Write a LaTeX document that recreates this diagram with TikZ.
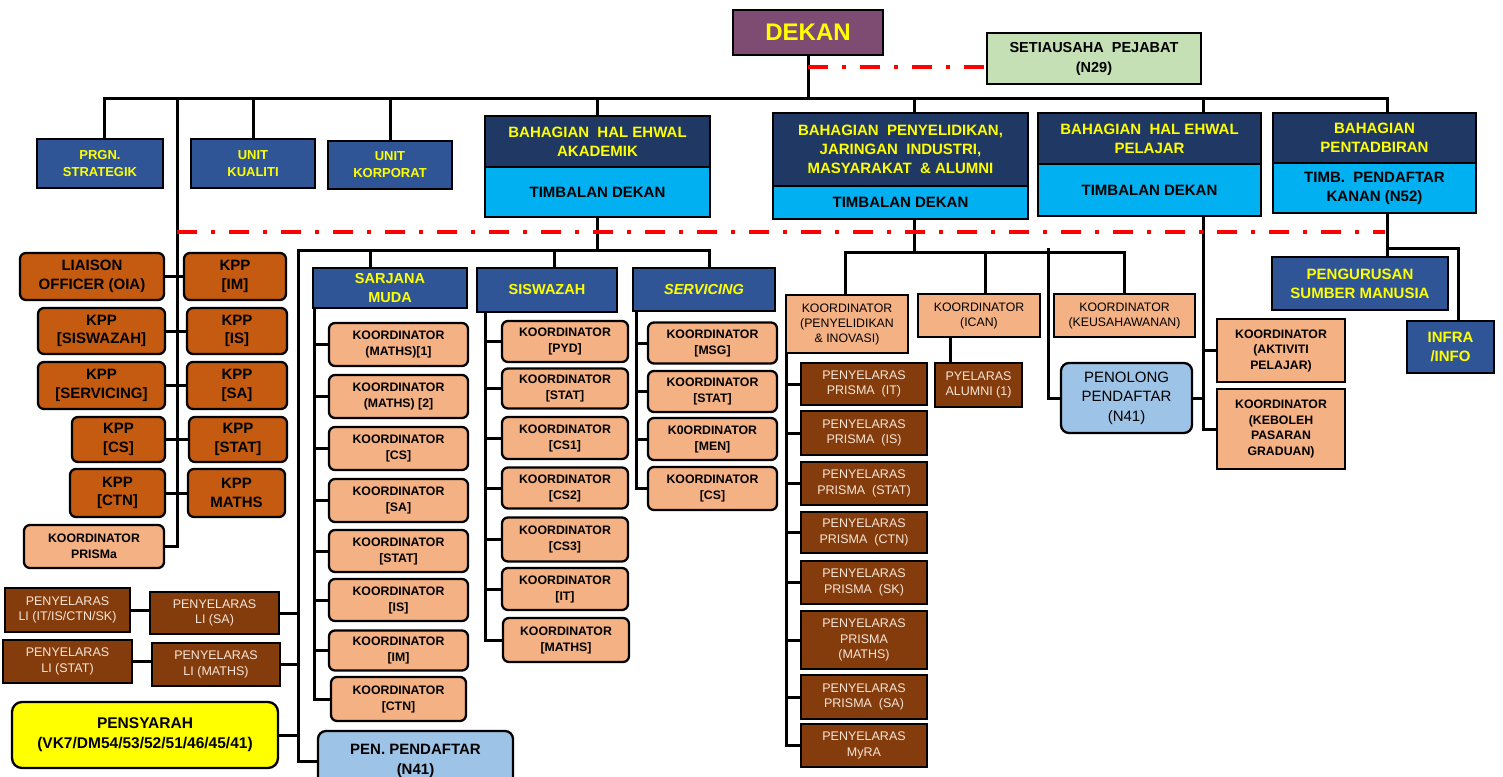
\documentclass[tikz,border=0pt]{standalone}
\usepackage{fontspec}
\setmainfont{Liberation Sans}
\usepackage{tikz}
\usetikzlibrary{positioning,calc}
\definecolor{navyblue}{HTML}{1F3864}
\definecolor{midblue}{HTML}{2F5597}
\definecolor{skyblue}{HTML}{00B0F0}
\definecolor{plum}{HTML}{7E4C72}
\definecolor{sage}{HTML}{C5E0B4}
\definecolor{rust}{HTML}{C55A11}
\definecolor{peach}{HTML}{F4B183}
\definecolor{brownish}{HTML}{843C0C}
\definecolor{paleblue}{HTML}{9DC3E6}
\definecolor{cream}{HTML}{F8E6D8}
\definecolor{lemon}{HTML}{FFFF00}
\definecolor{dashred}{HTML}{FF0000}
\newcommand{\fsz}[2]{\fontsize{#1}{#2}\selectfont}
\tikzset{wh/.style 2 args={minimum width=#1pt,minimum height=#2pt}}

\begin{document}
\begin{tikzpicture}[x=1pt,y=-1pt]
  \tikzstyle{box}=[draw, line width=2.3pt, align=center, inner sep=1pt, text=black]
  \tikzstyle{unit}=[box, fill=midblue, text=lemon, font=\bfseries\fsz{13}{17}]
  \tikzstyle{stream}=[box, fill=midblue, text=lemon, font=\bfseries\fsz{14.5}{19}]
  \tikzstyle{bahagian}=[box, fill=navyblue, text=lemon, font=\bfseries\fsz{15}{19}]
  \tikzstyle{timbalan}=[box, fill=skyblue, font=\bfseries\fsz{15}{19}]
  \tikzstyle{kpp}=[box, rounded corners=6pt, fill=rust, font=\bfseries\fsz{15}{18.5}]
  \tikzstyle{koord}=[box, rounded corners=6pt, fill=peach, font=\bfseries\fsz{12.3}{16}]
  \tikzstyle{koordsq}=[box, fill=peach, font=\fsz{12.3}{15}]
  \tikzstyle{koordbold}=[box, fill=peach, font=\bfseries\fsz{12.3}{15.5}]
  \tikzstyle{penyelaras}=[box, fill=brownish, text=cream, font=\fsz{12.5}{15.5}]
  \tikzstyle{pendaftar}=[box, rounded corners=8pt, fill=paleblue, font=\fsz{15}{19.5}]
  \tikzstyle{link}=[line width=3pt]
  \tikzstyle{dotdash}=[dashred, line width=3.5pt, dash pattern=on 20pt off 14pt on 4pt off 14pt]

  \useasboundingbox (0,0) rectangle (1503,776);
  \clip (0,0) rectangle (1503,776);

  \node[box, fill=plum, text=lemon, font=\bfseries\fsz{24}{28}, wh={150}{45}] (dekan) at (808,32.5) {DEKAN};
  \node[box, fill=sage, line width=1.5pt, font=\bfseries\fsz{14.5}{20}, wh={214}{51}] (setia) at (1094,58.5) {SETIAUSAHA\ \ PEJABAT\\(N29)};

  \node[unit, wh={126}{49}] (prgn) at (100,163.5) {PRGN.\\STRATEGIK};
  \node[unit, wh={124}{49}] (kualiti) at (253,163.5) {UNIT\\KUALITI};
  \node[unit, wh={124}{48}] (korporat) at (390,165) {UNIT\\KORPORAT};

  \node[bahagian, wh={225}{51}] (akad) at (597.5,141.5) {BAHAGIAN\ \ HAL EHWAL\\AKADEMIK};
  \node[timbalan, wh={225}{50}] (akadtd) at (597.5,192) {TIMBALAN DEKAN};
  \node[bahagian, wh={255}{73}] (penye) at (900.5,149.5) {BAHAGIAN\ \ PENYELIDIKAN,\\JARINGAN\ \ INDUSTRI,\\MASYARAKAT\ \ \& ALUMNI};
  \node[timbalan, wh={255}{33}] (penyetd) at (900.5,202.5) {TIMBALAN DEKAN};
  \node[bahagian, wh={223}{51}] (pelajar) at (1149.5,138.5) {BAHAGIAN\ \ HAL EHWAL\\PELAJAR};
  \node[timbalan, wh={223}{52}] (pelajartd) at (1149.5,190) {TIMBALAN DEKAN};
  \node[bahagian, wh={203}{50}] (tadbir) at (1374.5,138) {BAHAGIAN\\PENTADBIRAN};
  \node[timbalan, wh={203}{50}] (tadbirtd) at (1374.5,188) {TIMB.\ \ PENDAFTAR\\KANAN (N52)};

  \node[kpp, wh={144}{47}] (liaison) at (92,276.5) {LIAISON\\OFFICER (OIA)};
  \node[kpp, wh={102}{47}] (kppim) at (235,276.5) {KPP\\{}[IM]};
  \node[kpp, wh={127}{46}] (kppsiswazah) at (101.5,331) {KPP\\{}[SISWAZAH]};
  \node[kpp, wh={100}{46}] (kppis) at (237,331) {KPP\\{}[IS]};
  \node[kpp, wh={127}{47}] (kppservicing) at (101.5,385.5) {KPP\\{}[SERVICING]};
  \node[kpp, wh={100}{47}] (kppsa) at (237,385.5) {KPP\\{}[SA]};
  \node[kpp, wh={93}{45}] (kppcs) at (118.5,439.5) {KPP\\{}[CS]};
  \node[kpp, wh={98}{45}] (kppstat) at (238,439.5) {KPP\\{}[STAT]};
  \node[kpp, wh={95}{48}] (kppctn) at (117.5,493) {KPP\\{}[CTN]};
  \node[kpp, wh={97}{48}] (kppmaths) at (236.5,493) {KPP\\MATHS};
  \node[koord, wh={140}{43}] (kprisma) at (94,546.5) {KOORDINATOR\\PRISMa};

  \node[penyelaras, wh={125}{44}] (liit) at (67.5,610) {PENYELARAS\\LI (IT/IS/CTN/SK)};
  \node[penyelaras, wh={129}{42}] (lisa) at (214.5,613) {PENYELARAS\\LI (SA)};
  \node[penyelaras, wh={129}{43}] (listat) at (67.5,661.5) {PENYELARAS\\LI (STAT)};
  \node[penyelaras, wh={128}{43}] (limaths) at (216,664.5) {PENYELARAS\\LI (MATHS)};
  \node[box, rounded corners=10pt, fill=lemon, font=\bfseries\fsz{15.5}{20}, wh={266}{66}] (pensyarah) at (145,735) {PENSYARAH\\(VK7/DM54/53/52/51/46/45/41)};
  \node[pendaftar, font=\bfseries\fsz{15}{20}, wh={195}{60}] (penpend) at (415.5,761) {PEN. PENDAFTAR\\(N41)};

  \node[stream, wh={154}{40}] (sarjana) at (390,288) {SARJANA\\MUDA};
  \node[stream, wh={140}{44}] (siswazah) at (547,290) {SISWAZAH};
  \node[stream, wh={142}{43}, font=\bfseries\itshape\fsz{14.5}{19}] (servicing) at (704,289.5) {SERVICING};

  \node[koord, wh={139}{43}] (sm1) at (398.5,344.5) {KOORDINATOR\\(MATHS)[1]};
  \node[koord, wh={139}{43}] (sm2) at (398.5,396.5) {KOORDINATOR\\(MATHS) [2]};
  \node[koord, wh={139}{43}] (sm3) at (398.5,448.5) {KOORDINATOR\\{}[CS]};
  \node[koord, wh={139}{43}] (sm4) at (398.5,500.5) {KOORDINATOR\\{}[SA]};
  \node[koord, wh={139}{42}] (sm5) at (398.5,551) {KOORDINATOR\\{}[STAT]};
  \node[koord, wh={139}{42}] (sm6) at (398.5,600) {KOORDINATOR\\{}[IS]};
  \node[koord, wh={139}{40}] (sm7) at (398.5,650.5) {KOORDINATOR\\{}[IM]};
  \node[koord, wh={135}{44}] (sm8) at (398.5,699) {KOORDINATOR\\{}[CTN]};

  \node[koord, wh={126}{41}] (sw1) at (565,341.5) {KOORDINATOR\\{}[PYD]};
  \node[koord, wh={126}{40}] (sw2) at (565,388.5) {KOORDINATOR\\{}[STAT]};
  \node[koord, wh={126}{42}] (sw3) at (565,438) {KOORDINATOR\\{}[CS1]};
  \node[koord, wh={126}{41}] (sw4) at (565,488) {KOORDINATOR\\{}[CS2]};
  \node[koord, wh={126}{44}] (sw5) at (565,539.5) {KOORDINATOR\\{}[CS3]};
  \node[koord, wh={126}{42}] (sw6) at (565,589) {KOORDINATOR\\{}[IT]};
  \node[koord, wh={126}{44}] (sw7) at (566,640) {KOORDINATOR\\{}[MATHS]};

  \node[koord, wh={129}{41}] (sv1) at (712.5,343) {KOORDINATOR\\{}[MSG]};
  \node[koord, wh={129}{41}] (sv2) at (712.5,391.5) {KOORDINATOR\\{}[STAT]};
  \node[koord, wh={129}{42}] (sv3) at (712.5,439) {K0ORDINATOR\\{}[MEN]};
  \node[koord, wh={129}{43}] (sv4) at (712.5,488.5) {KOORDINATOR\\{}[CS]};

  \node[koordsq, wh={122}{58}] (kpi) at (847,324) {KOORDINATOR\\(PENYELIDIKAN\\\& INOVASI)};
  \node[koordsq, wh={122}{43}] (kican) at (979,315.5) {KOORDINATOR\\(ICAN)};
  \node[koordsq, wh={141}{43}] (kkeus) at (1124.5,315.5) {KOORDINATOR\\(KEUSAHAWANAN)};
  \node[penyelaras, wh={87}{44}] (alumni) at (978.5,385) {PYELARAS\\ALUMNI (1)};
  \node[pendaftar, wh={131}{70}] (penolong) at (1126.5,398) {PENOLONG\\PENDAFTAR\\(N41)};
  \node[koordbold, wh={128}{63}] (kaktiviti) at (1281,350.5) {KOORDINATOR\\(AKTIVITI\\PELAJAR)};
  \node[koordbold, wh={128}{80}] (kkeboleh) at (1281,429) {KOORDINATOR\\(KEBOLEH\\PASARAN\\GRADUAN)};
  \node[stream, font=\bfseries\fsz{15}{19}, wh={176}{53}] (pengurusan) at (1360,283.5) {PENGURUSAN\\SUMBER MANUSIA};
  \node[stream, font=\bfseries\fsz{15}{19}, wh={87}{52}] (infra) at (1450.5,347) {INFRA\\/INFO};

  \node[penyelaras, wh={126}{42}] (pr1) at (864,384) {PENYELARAS\\PRISMA\ \ (IT)};
  \node[penyelaras, wh={126}{44}] (pr2) at (864,433) {PENYELARAS\\PRISMA\ \ (IS)};
  \node[penyelaras, wh={126}{43}] (pr3) at (864,483.5) {PENYELARAS\\PRISMA\ \ (STAT)};
  \node[penyelaras, wh={126}{41}] (pr4) at (864,532.5) {PENYELARAS\\PRISMA\ \ (CTN)};
  \node[penyelaras, wh={126}{43}] (pr5) at (864,582.5) {PENYELARAS\\PRISMA\ \ (SK)};
  \node[penyelaras, wh={126}{58}] (pr6) at (864,640) {PENYELARAS\\PRISMA\\(MATHS)};
  \node[penyelaras, wh={126}{44}] (pr7) at (864,697) {PENYELARAS\\PRISMA\ \ (SA)};
  \node[penyelaras, wh={126}{43}] (pr8) at (864,745.5) {PENYELARAS\\MyRA};

  \coordinate (busL) at (104,98);
  \coordinate (busR) at (1387,98);
  \coordinate (spineL) at (177,98);
  \coordinate (sgL) at (298,250);
  \coordinate (sgR) at (709,250);
  \coordinate (pyL) at (845,252);
  \coordinate (pyR) at (1124,252);
  \coordinate (pnx) at (1048,248);
  \coordinate (redL) at (177,232);
  \coordinate (redR) at (1385,232);
  \coordinate (smsp) at ([xshift=3pt]sarjana.south west);
  \coordinate (swsp) at ([xshift=10pt]siswazah.south west);
  \coordinate (svsp) at ([xshift=5pt]servicing.south west);
  \coordinate (prsp) at ([xshift=2pt]kpi.south west);
  \coordinate (pelsp) at ([xshift=54pt]pelajartd.south);
  \coordinate (tdsp) at ([xshift=12.5pt]tadbirtd.south);
  \coordinate (sekL) at ([yshift=-8.5pt]setia.west);

  \draw[link] (dekan.south) -- (dekan.south |- busL);
  \draw[link] (busL |- prgn.north) -- (busL) -- (busR) -- (busR |- tadbir.north);
  \draw[link] (kualiti.north) -- (kualiti.north |- busL);
  \draw[link] (korporat.north) -- (korporat.north |- busL);
  \draw[link] (akad.north) -- (akad.north |- busL);
  \draw[link] ([xshift=14pt]penye.north) -- ([xshift=14pt]penye.north |- busL);
  \draw[link] ([xshift=54pt]pelajar.north) -- ([xshift=54pt]pelajar.north |- busL);

  \draw[link] (spineL) |- (kprisma.east);
  \draw[link] (liaison.east) -- (kppim.west);
  \draw[link] (kppsiswazah.east) -- (kppis.west);
  \draw[link] (kppservicing.east) -- (kppsa.west);
  \draw[link] (kppcs.east) -- (kppstat.west);
  \draw[link] (kppctn.east) -- (kppmaths.west);

  \draw[link] (akadtd.south) -- (akadtd.south |- sgL);
  \draw[link] (penpend.west) -| (sgL) -- (sgR) -- (sgR |- servicing.north);
  \draw[link] ([xshift=-20pt]sarjana.north) -- ([xshift=-20pt]sarjana.north |- sgL);
  \draw[link] ([xshift=7pt]siswazah.north) -- ([xshift=7pt]siswazah.north |- sgL);
  \draw[link] (liit.east) -- (liit.east -| lisa.west);
  \draw[link] (lisa.east) -- (lisa.east -| sgL);
  \draw[link] (listat.east) -- (listat.east -| limaths.west);
  \draw[link] (limaths.east) -- (limaths.east -| sgL);
  \draw[link] (pensyarah.east) -- (pensyarah.east -| sgL);

  \draw[link] (smsp) |- (sm8.west);
  \foreach \k in {sm1,sm2,sm3,sm4,sm5,sm6,sm7}
    \draw[link] (\k.west) -- (\k.west -| smsp);
  \draw[link] (swsp) |- (sw7.west);
  \foreach \k in {sw1,sw2,sw3,sw4,sw5,sw6}
    \draw[link] (\k.west) -- (\k.west -| swsp);
  \draw[link] (svsp) |- (sv4.west);
  \foreach \k in {sv1,sv2,sv3}
    \draw[link] (\k.west) -- (\k.west -| svsp);

  \draw[link] ([xshift=14pt]penyetd.south) -- ([xshift=14pt]penyetd.south |- pyL);
  \draw[link] (pyL |- kpi.north) -- (pyL) -- (pyR) -- (pyR |- kkeus.north);
  \draw[link] ([xshift=6pt]kican.north) -- ([xshift=6pt]kican.north |- pyL);
  \draw[link] ([xshift=-28pt]alumni.north) -- ([xshift=-28pt]alumni.north |- kican.south);
  \draw[link] (pnx) |- (penolong.west);
  \draw[link] (prsp) |- (pr8.west);
  \foreach \k in {pr1,pr2,pr3,pr4,pr5,pr6,pr7}
    \draw[link] (\k.west) -- (\k.west -| prsp);

  \draw[link] (pelsp) |- (kkeboleh.west);
  \draw[link] (kaktiviti.west) -- (kaktiviti.west -| pelsp);
  \draw[link] (penolong.east) -- (penolong.east -| pelsp);

  \draw[link] (tdsp) -- (tdsp |- pengurusan.north);
  \draw[link] ([yshift=-34pt]tdsp) -| ([xshift=8pt]infra.north);

  \draw[dotdash] (dekan.south |- sekL) -- (sekL);
  \draw[dotdash] (redL) -- (redR);
\end{tikzpicture}
\end{document}
